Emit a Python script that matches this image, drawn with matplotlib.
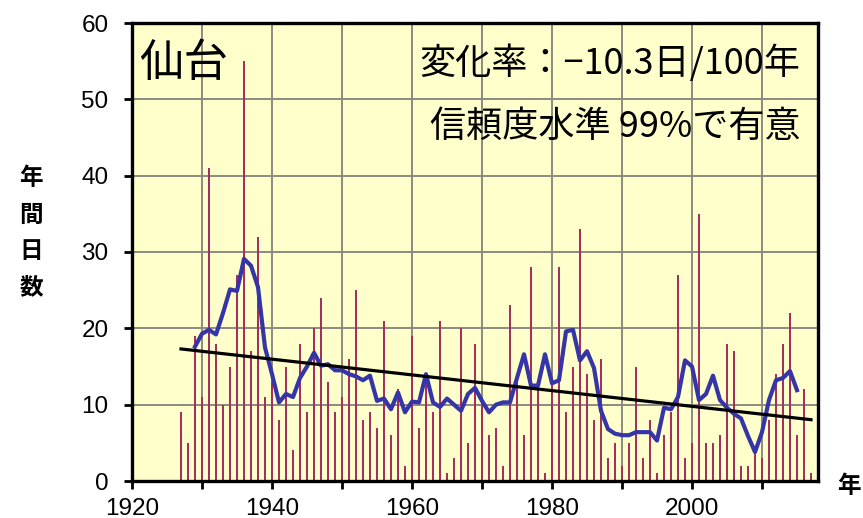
import numpy as np
import matplotlib
matplotlib.use("Agg")
import matplotlib.pyplot as plt
from matplotlib.ticker import MultipleLocator

# ─── data: annual day counts, Sendai ─────────────────────────────────────────
years = np.arange(1927, 2018)
days = [
    9, 5, 19, 11, 41, 18, 10, 15, 27, 55,        # 1927-1936
    17, 32, 11, 13, 8, 15, 4, 18, 9, 20,         # 1937-1946
    24, 13, 9, 11, 16, 25, 8, 9, 7, 21,          # 1947-1956
    6, 12, 2, 19, 7, 14, 9, 21, 1, 3,            # 1957-1966
    20, 5, 18, 11, 6, 7, 2, 23, 13, 6,           # 1967-1976
    28, 13, 1, 13, 28, 9, 15, 33, 14, 8,         # 1977-1986
    16, 3, 5, 2, 5, 15, 3, 8, 1, 6,              # 1987-1996
    9, 27, 3, 5, 35, 5, 5, 6, 18, 17,            # 1997-2006
    2, 2, 4, 3, 8, 14, 18, 22, 6, 12,            # 2007-2016
    1,                                           # 2017
]

# 5-year running mean (centred), 1929-2015
smooth_years = np.arange(1929, 2016)
smooth_days = [
    17.6, 19.3, 19.8, 19.2, 22.0, 25.1, 24.9, 29.1, 28.2, 25.4,   # 1929-1938
    17.5, 14.0, 10.3, 11.4, 11.0, 13.5, 15.0, 16.8, 15.1, 15.3,   # 1939-1948
    14.5, 14.5, 14.0, 13.7, 13.2, 13.8, 10.5, 10.8, 9.4, 11.6,    # 1949-1958
    9.0, 10.4, 10.3, 14.0, 10.3, 9.7, 10.8, 10.0, 9.2, 11.4,      # 1959-1968
    12.2, 10.5, 9.0, 10.0, 10.3, 10.3, 13.5, 16.6, 12.5, 12.5,    # 1969-1978
    16.6, 12.8, 13.2, 19.6, 19.8, 15.8, 17.0, 14.8, 9.2, 6.8,     # 1979-1988
    6.2, 6.0, 6.0, 6.4, 6.4, 6.4, 5.3, 9.6, 9.4, 11.0,            # 1989-1998
    15.8, 15.0, 10.6, 11.4, 13.8, 10.6, 9.6, 8.8, 8.2, 5.9,       # 1999-2008
    3.8, 6.4, 10.6, 13.2, 13.5, 14.4, 11.9,                       # 2009-2015
]

# linear trend: -10.3 days per 100 years
trend_rate = -10.3
trend_years = np.array([1927, 2017])
trend_start = 17.3
trend_days = trend_start + trend_rate / 100 * (trend_years - trend_years[0])

station = "仙台"
rate_label = "変化率：−10.3日/100年"
signif_label = "信頼度水準 99%で有意"

# ─── plot ────────────────────────────────────────────────────────────────────
jp_font = ["Noto Sans CJK JP", "DejaVu Sans"]
num_font = ["Liberation Sans", "DejaVu Sans"]

W, H = 863, 518
fig = plt.figure(figsize=(W / 100, H / 100), dpi=100)
fig.patch.set_facecolor("white")
ax = fig.add_axes([132 / W, 1 - 481 / H, (818 - 132) / W, (481 - 23) / H])
ax.set_facecolor("#ffffcc")

ax.bar(years, days, width=0.42, color="#a3305f", zorder=2)
ax.plot(smooth_years, smooth_days, color="#3535a8", lw=3.0,
        solid_joinstyle="round", zorder=3)
ax.plot(trend_years, trend_days, color="black", lw=2.3, zorder=4)

ax.set_xlim(1920, 2018)
ax.set_ylim(0, 60)
ax.xaxis.set_major_locator(MultipleLocator(20))
ax.xaxis.set_minor_locator(MultipleLocator(10))
ax.yaxis.set_major_locator(MultipleLocator(10))
ax.grid(True, which="both", axis="x", color="#8a8a82", lw=1.4, zorder=1)
ax.grid(True, which="major", axis="y", color="#8a8a82", lw=1.4, zorder=1)
ax.set_axisbelow(True)

for side in ("left", "bottom", "right", "top"):
    ax.spines[side].set_linewidth(2.4)
    ax.spines[side].set_zorder(5)

ax.tick_params(axis="both", which="both", direction="out", length=6,
               width=2, color="black")
ax.tick_params(axis="y", pad=11)
ax.tick_params(axis="x", pad=6)
for lab in ax.get_xticklabels() + ax.get_yticklabels():
    lab.set_family(num_font)
    lab.set_fontsize(17.5)

ax.text(0.010, 0.962, station, transform=ax.transAxes, ha="left", va="top",
        fontsize=32, family=jp_font, zorder=6)
ax.text(0.974, 0.912, rate_label, transform=ax.transAxes, ha="right",
        va="center", fontsize=26, family=jp_font, zorder=6)
ax.text(0.974, 0.774, signif_label, transform=ax.transAxes, ha="right",
        va="center", fontsize=26, family=jp_font, zorder=6)

# vertical axis title, one character per line
for i, ch in enumerate("年間日数"):
    fig.text(31 / W, 1 - (178 + 36.5 * i) / H, ch, ha="center", va="center",
             fontsize=17, fontweight="bold", family=jp_font)
fig.text(849 / W, 1 - 486 / H, "年", ha="center", va="center",
         fontsize=17, fontweight="bold", family=jp_font)

fig.savefig("out.png", dpi=100)
